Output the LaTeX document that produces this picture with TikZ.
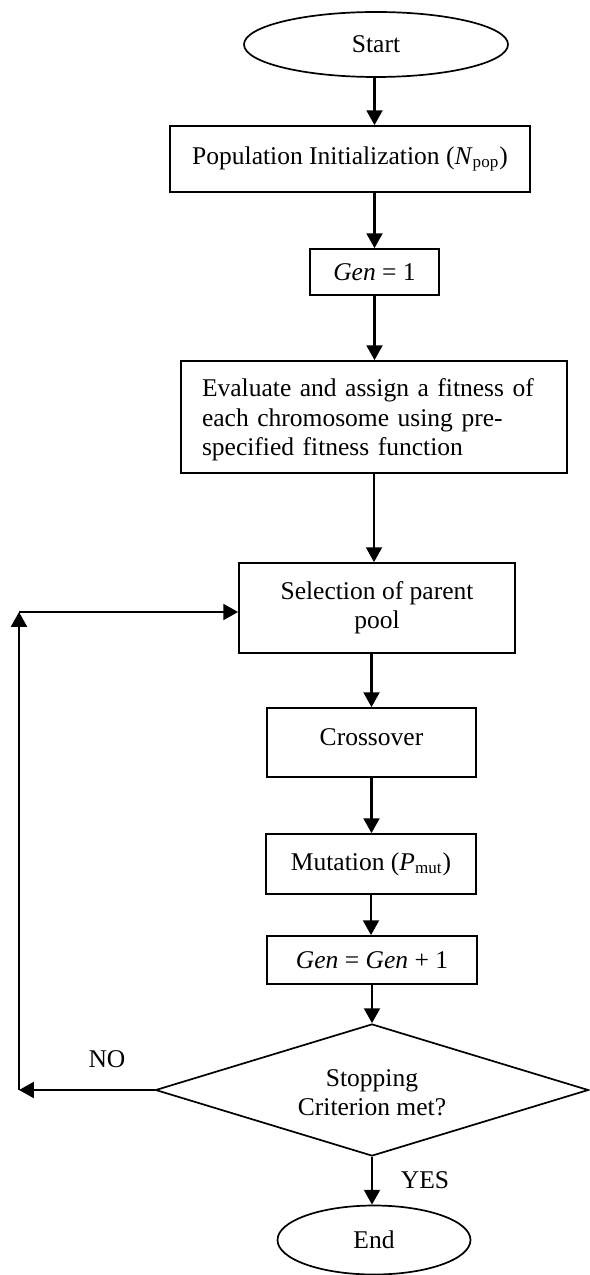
\documentclass[tikz,border=0pt]{standalone}
\usepackage{fontspec}
\setmainfont{Liberation Serif}
\usetikzlibrary{arrows.meta,shapes.geometric}
% drawing unit: one grid step
\newcommand\pxu{0.47pt}
\begin{document}
\begin{tikzpicture}[x=0.47pt,y=-0.47pt,
  every node/.style={font=\fontsize{12}{13.8}\selectfont},
  base/.style={draw,line width=0.8pt,inner sep=0pt,align=center},
  proc/.style={base,rectangle},
  term/.style={base,ellipse},
  decision/.style={base,diamond,aspect=3.28},
  arr/.style={line width=1.05pt,-{Triangle[length=7pt,width=7.5pt]}},
  tag/.style={inner sep=0pt}]
\useasboundingbox (0,0) rectangle (589,1275);

% flow steps
\node[term,minimum width=264*\pxu,minimum height=65*\pxu] (start) at (376,44.5) {Start};
\node[proc,minimum width=360*\pxu,minimum height=66*\pxu] (popinit) at (350,159)
  {Population Initialization (\textit{N}\textsubscript{pop})};
\node[proc,minimum width=129*\pxu,minimum height=46*\pxu] (gen1) at (374.5,272) {\textit{Gen} = 1};
\node[proc,minimum width=386*\pxu,minimum height=112*\pxu,text width=344*\pxu,align=left] (eval) at (374,417)
  {\raisebox{-1.6pt}[\height][\depth]{\begin{tabular}{@{}l@{}}Evaluate and assign a fitness of\\each chromosome using pre-\\specified fitness function\end{tabular}}};
\node[proc,minimum width=276*\pxu,minimum height=90*\pxu] (sel) at (377,608) {Selection of parent\\pool};
\node[proc,minimum width=209*\pxu,minimum height=69*\pxu] (cross) at (371.5,742.5)
  {\raisebox{2.3pt}[\height][\depth]{Crossover}};
\node[proc,minimum width=210*\pxu,minimum height=60*\pxu] (mut) at (371,864)
  {Mutation (\textit{P}\textsubscript{mut})};
\node[proc,minimum width=210*\pxu,minimum height=48*\pxu] (gen2) at (372,960) {\textit{Gen} = \textit{Gen} + 1};
\node[decision,minimum width=433*\pxu,minimum height=132*\pxu] (dec) at (372,1090)
  {\raisebox{-2.3pt}[\height][\depth]{\begin{tabular}{@{}c@{}}Stopping\\Criterion met?\end{tabular}}};
\node[term,minimum width=193*\pxu,minimum height=69*\pxu] (endn) at (374,1240) {End};

% branch labels
\node[tag] (no) at (107,1059) {NO};
\node[tag] (yes) at (425,1180) {YES};

% main flow
\draw[arr] (gen1.north |- start.south) -- (gen1.north |- popinit.north);
\draw[arr] (gen1.north |- popinit.south) -- (gen1.north);
\draw[arr] (gen1.south) -- (gen1.south |- eval.north);
\draw[arr] (eval.south) -- (eval.south |- sel.north);
\draw[arr] (cross.north |- sel.south) -- (cross.north);
\draw[arr] (cross.south) -- (cross.south |- mut.north);
\draw[arr] (mut.south) -- (mut.south |- gen2.north);
\draw[arr] (dec.north |- gen2.south) -- (dec.north);
\draw[arr] (dec.south) -- (dec.south |- endn.north);

% loop back when the criterion is not met
\coordinate (loopc) at (19,1090);
\coordinate (looptop) at (19,612);
\draw[arr] (dec.west) -- (loopc);
\draw[arr] (loopc) -- (looptop);
\draw[arr] (looptop) -- (looptop -| sel.west);
\end{tikzpicture}
\end{document}
